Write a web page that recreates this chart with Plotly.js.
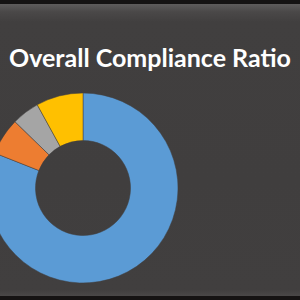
<!DOCTYPE html>
<html><head><meta charset="utf-8">
<script src="https://cdn.plot.ly/plotly-3.0.1.min.js"></script>
<style>
html,body{margin:0;padding:0;width:300px;height:300px;overflow:hidden;background:#151313;}
#bg{position:absolute;left:0;top:4px;width:300px;height:292px;
background:linear-gradient(to bottom,#5e5c5c 0px,#4a4848 8px,#413f3f 18px,#403e3e 60%,#413f3f 286px,#4a4848 292px);}
#chart{position:absolute;left:-20px;top:0;width:320px;height:300px;}
</style></head>
<body><div id="bg"></div><div id="chart"></div>
<script>
var labels = ["Compliant", "Non-Compliant", "Not Applicable", "Pending"];
var values = [81, 6.3, 4.7, 8];
var colors = ["#5B9BD5", "#ED7D31", "#A5A5A5", "#FFC000"];

Plotly.newPlot("chart", [{
  type: "pie",
  labels: labels,
  values: values,
  hole: 0.5,
  sort: false,
  direction: "clockwise",
  rotation: 0,
  textinfo: "none",
  hoverinfo: "none",
  marker: {colors: colors, line: {color: "#403e3e", width: 0.5}},
  domain: {x: [0.025, 0.61875], y: [0.0567, 0.69]},
  showlegend: false
}], {
  width: 320, height: 300,
  margin: {l: 0, r: 0, t: 0, b: 0},
  paper_bgcolor: "rgba(0,0,0,0)",
  plot_bgcolor: "rgba(0,0,0,0)",
  title: {text: "<b>Overall Compliance Ratio</b>", x: 0.53125, xanchor: "center",
          y: 0.805, yanchor: "middle", yref: "paper",
          font: {family: "Lato", size: 25, color: "#ffffff"}}
}, {staticPlot: true});
</script></body></html>
